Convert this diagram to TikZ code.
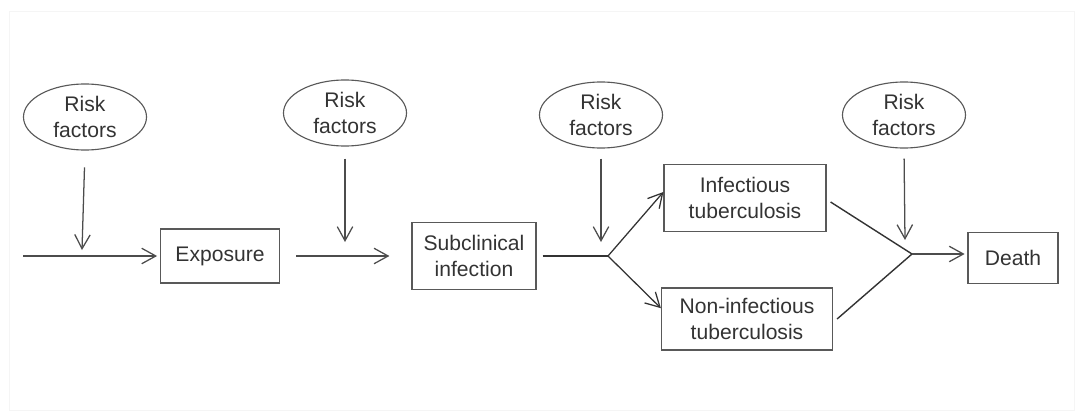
\documentclass[tikz,border=0pt]{standalone}
\usepackage{fontspec}
\setmainfont{Liberation Sans}
\usetikzlibrary{arrows.meta, positioning, shapes.geometric}

\begin{document}
\begin{tikzpicture}[x=0.025cm, y=-0.025cm,
        every node/.style={font=\fontsize{15}{18}\selectfont, text=black!80},
        stage/.style={draw=black!65, line width=0.8pt, rectangle, align=center, inner sep=2pt},
        risk/.style={draw=black!65, line width=0.8pt, ellipse, align=center, minimum width=3.075cm, minimum height=1.65cm, inner sep=0pt},
        arrow/.style={-{Straight Barb[length=10pt, width=11pt, line width=0.9pt]}, draw=black!70, line width=0.9pt},
        link/.style={draw=black!80, line width=1pt}
    ]
        % === Frame ===
        \draw[black!4, line width=0.6pt] (9,11) rectangle (1074,410);
        \useasboundingbox (0,0) rectangle (1080,414);

        % === Risk factors ===
        \node[risk] (rf1) at (85,117) {Risk\\factors};
        \node[risk] (rf2) at (345,113) {Risk\\factors};
        \node[risk] (rf3) at (601,115) {Risk\\factors};
        \node[risk] (rf4) at (904,115) {Risk\\factors};

        % === Stages ===
        \node[stage, minimum width=2.975cm, minimum height=1.35cm] (expo) at (220,256) {Exposure};
        \node[stage, minimum width=3.1cm, minimum height=1.675cm] (sub) at (474,256) {Subclinical\\infection};
        \node[stage, minimum width=4.05cm, minimum height=1.675cm] (inf) at (745,198) {Infectious\\tuberculosis};
        \node[stage, minimum width=4.275cm, minimum height=1.55cm] (noninf) at (747,319) {Non-infectious\\tuberculosis};
        \node[stage, minimum width=2.25cm, minimum height=1.275cm] (death) at (1013,258) {Death};

        % Junction points
        \coordinate (in1) at (23,256);
        \coordinate (j1) at (82,250);
        \coordinate (j2) at (345,242);
        \coordinate (j3) at (601,242);
        \coordinate (j4) at (905,240);
        \coordinate (b1) at (608,256);
        \coordinate (b2) at (912,254);

        % Arrows from risk factors
        \draw[arrow, shorten <=0.42cm] (rf1.south) -- (j1);
        \draw[arrow, shorten <=0.3cm] (rf2.south) -- (j2);
        \draw[arrow, shorten <=0.25cm] (rf3.south) -- (j3);
        \draw[arrow, shorten <=0.25cm] (rf4.south) -- (j4);

        % Main pathway
        \draw[arrow] (in1) -- ([xshift=-2pt]expo.west);
        \draw[arrow, shorten <=0.4cm, shorten >=0.55cm] (expo.east) -- (sub.west);
        \draw[link, shorten <=0.15cm] (sub.east) -- (b1);
        \draw[arrow, black!80] (b1) -- ([yshift=0.15cm]inf.west);
        \draw[arrow, black!80] (b1) -- ([yshift=0.27cm]noninf.west);
        \draw[link] ([xshift=0.1cm, yshift=-0.1cm]inf.east) -- (b2);
        \draw[link] ([xshift=0.1cm]noninf.east) -- (b2);
        \draw[arrow, shorten >=2pt] (b2) -- (b2 -| death.west);

    \end{tikzpicture}
\end{document}
